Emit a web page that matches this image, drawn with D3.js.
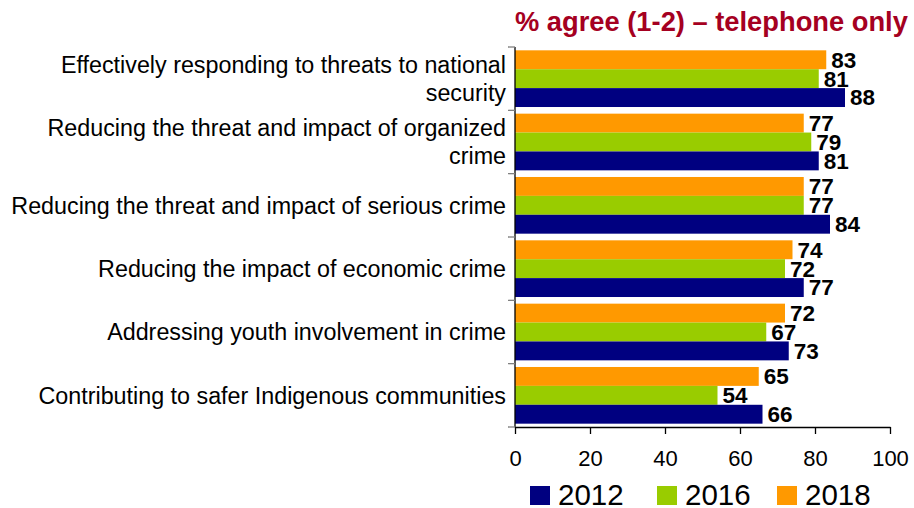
<!DOCTYPE html>
<html lang="en">
<head>
<meta charset="utf-8">
<script src="https://d3js.org/d3.v7.min.js"></script>
<style>
  body { margin: 0; background: #fff; }
  text { font-family: "Liberation Sans", Arial, sans-serif; }
</style>
<title>% agree - telephone only</title>
</head>
<body>
<div id="chart"></div>
<script>
// data
var categories = [
  "Effectively responding to threats to national\nsecurity",
  "Reducing the threat and impact of organized\ncrime",
  "Reducing the threat and impact of serious crime",
  "Reducing the impact of economic crime",
  "Addressing youth involvement in crime",
  "Contributing to safer Indigenous communities"
];
var years = ["2018", "2016", "2012"];          // top to bottom inside a group
var legendYears = ["2012", "2016", "2018"];
var values2018 = [83, 77, 77, 74, 72, 65];
var values2016 = [81, 79, 77, 72, 67, 54];
var values2012 = [88, 81, 84, 77, 73, 66];
var xTicks = [0, 20, 40, 60, 80, 100];
var colors = { "2012": "#000080", "2016": "#99CC00", "2018": "#FF9900" };

var series = { "2018": values2018, "2016": values2016, "2012": values2012 };

var W = 914, H = 508;
var plotLeft = 515, plotRight = 890, plotTop = 47, plotBottom = 427;

var svg = d3.select("#chart").append("svg")
    .attr("width", W)
    .attr("height", H);

var x = d3.scaleLinear().domain([0, 100]).range([plotLeft, plotRight]);

var y = d3.scaleBand()
    .domain(categories)
    .range([plotTop, plotBottom])
    .paddingInner(0.105)
    .paddingOuter(0.0525);

var yInner = d3.scaleBand()
    .domain(years)
    .range([0, y.bandwidth()]);

// title
svg.append("text")
    .attr("x", plotLeft)
    .attr("y", 31)
    .attr("fill", "#A50021")
    .attr("font-weight", "bold")
    .attr("font-size", "27.3px")
    .text("% agree (1-2) \u2013 telephone only");

// bars
var groups = svg.selectAll(".grp")
    .data(categories)
    .enter().append("g")
    .attr("class", "grp")
    .attr("transform", function(d) { return "translate(0," + y(d) + ")"; });

function rows(d, i) {
    return years.map(function(yr) { return { yr: yr, v: series[yr][i] }; });
}

groups.selectAll("rect")
    .data(rows)
    .enter().append("rect")
    .attr("x", x(0))
    .attr("y", function(d) { return yInner(d.yr); })
    .attr("width", function(d) { return x(d.v) - x(0); })
    .attr("height", yInner.bandwidth())
    .attr("fill", function(d) { return colors[d.yr]; });

groups.selectAll(".val")
    .data(rows)
    .enter().append("text")
    .attr("class", "val")
    .attr("x", function(d) { return x(d.v) + 5; })
    .attr("y", function(d) { return yInner(d.yr) + yInner.bandwidth() - 1.5; })
    .attr("font-weight", "bold")
    .attr("font-size", "22.5px")
    .attr("fill", "#000")
    .text(function(d) { return d.v; });

// category labels
var lineH = 28;
svg.selectAll(".cat")
    .data(categories)
    .enter().append("text")
    .attr("class", "cat")
    .attr("text-anchor", "end")
    .attr("font-size", "23.3px")
    .attr("fill", "#000")
    .each(function(d) {
        var lines = d.split("\n");
        var cy = y(d) + y.bandwidth() / 2 + 8.3 - (lines.length - 1) * lineH / 2;
        var t = d3.select(this);
        lines.forEach(function(l, i) {
            t.append("tspan")
                .attr("x", 506)
                .attr("y", cy + i * lineH)
                .text(l);
        });
    });

// y axis: line with ticks at the band boundaries
var step = y.step();
var boundaries = d3.range(categories.length + 1).map(function(i) { return plotTop + i * step; });
svg.append("line")
    .attr("x1", plotLeft).attr("x2", plotLeft)
    .attr("y1", plotTop).attr("y2", plotBottom)
    .attr("stroke", "#000").attr("stroke-width", 1.3);
svg.selectAll(".ytick")
    .data(boundaries)
    .enter().append("line")
    .attr("class", "ytick")
    .attr("x1", plotLeft - 7).attr("x2", plotLeft)
    .attr("y1", function(d) { return d; })
    .attr("y2", function(d) { return d; })
    .attr("stroke", "#808080").attr("stroke-width", 1.3);

// x axis
var xAxis = svg.append("g")
    .attr("transform", "translate(0," + plotBottom + ")")
    .call(d3.axisBottom(x).tickValues(xTicks).tickSize(7).tickPadding(16).tickSizeOuter(0));
xAxis.select(".domain").attr("stroke", "#000").attr("stroke-width", 1.3);
xAxis.selectAll(".tick line").attr("stroke", "#000").attr("stroke-width", 1.3);
xAxis.selectAll(".tick text")
    .attr("font-size", "22px")
    .attr("font-family", "'Liberation Sans', Arial, sans-serif")
    .attr("fill", "#000");

// legend
var legendX = [530, 657, 777];
var legend = svg.selectAll(".leg")
    .data(legendYears)
    .enter().append("g")
    .attr("class", "leg")
    .attr("transform", function(d, i) { return "translate(" + legendX[i] + ",486)"; });
legend.append("rect")
    .attr("width", 20).attr("height", 19)
    .attr("fill", function(d) { return colors[d]; });
legend.append("text")
    .attr("x", 28)
    .attr("y", 19)
    .attr("font-size", "29.5px")
    .attr("fill", "#000")
    .text(function(d) { return d; });
</script>
</body>
</html>
